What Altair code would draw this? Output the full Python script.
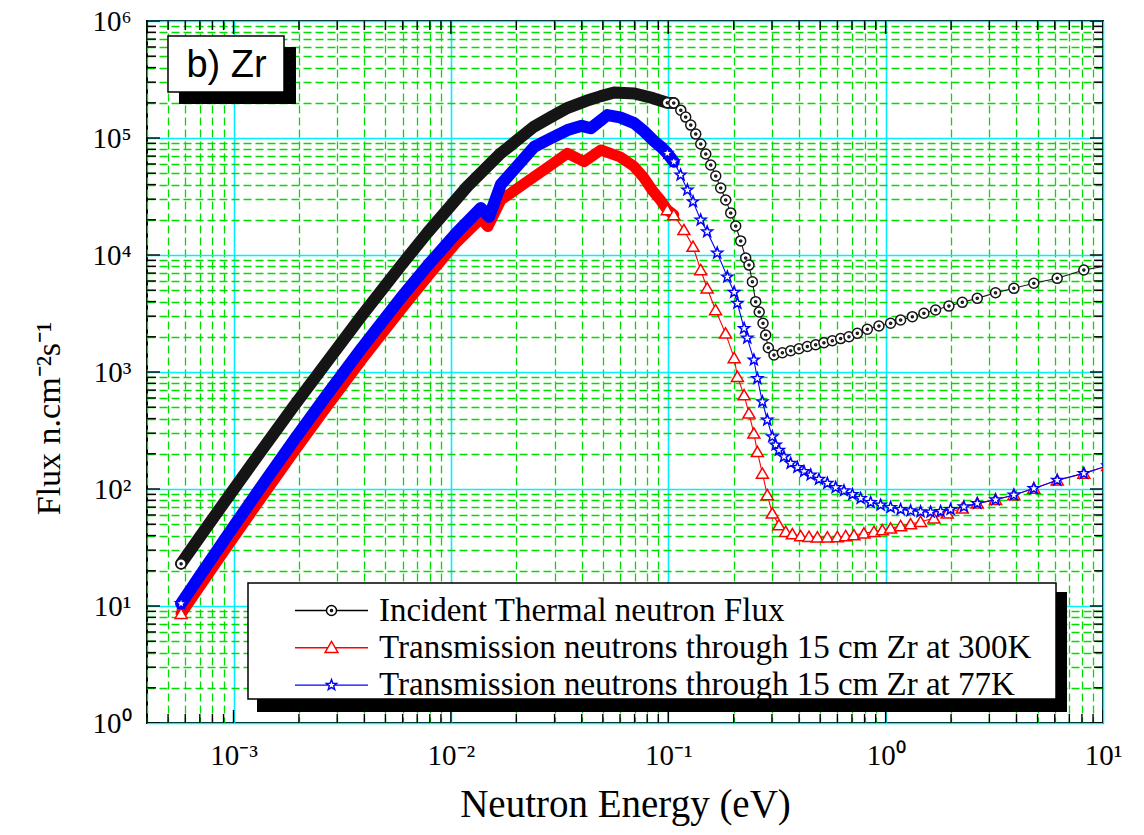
import altair as alt
import pandas as pd

# ---------------- data ----------------
SERIES = [
    "Incident Thermal neutron Flux",
    "Transmission neutrons through 15 cm Zr at 300K",
    "Transmission neutrons through 15 cm Zr at 77K",
]
COLORS = ["#000000", "#ff0000", "#0000ff"]

# Incident thermal neutron flux (black, circles)
inc_E = [5.74e-4, 7.1e-4, 9.4e-4, 1.3e-3, 1.9e-3, 2.7e-3, 3.86e-3, 5.89e-3, 7.8e-3, 0.0119,
         0.0169, 0.0241, 0.029, 0.034, 0.042, 0.049, 0.0564, 0.070, 0.085, 0.099,
         0.106, 0.1142, 0.1203, 0.1269, 0.1338, 0.1411, 0.1488, 0.1568, 0.1654, 0.1743,
         0.1838, 0.1938, 0.2043, 0.2154, 0.2271, 0.2352, 0.2438, 0.2525, 0.2621, 0.2729,
         0.2807, 0.2888,
         0.3065, 0.335, 0.3658, 0.3994, 0.4365, 0.4767, 0.5202, 0.5687, 0.621, 0.6781,
         0.7411, 0.8238, 0.9316, 1.054, 1.172, 1.327, 1.5, 1.698, 1.955, 2.253,
         2.64, 3.204, 3.89, 4.806, 6.157, 8.163, 10.5]
inc_F = [23, 40.4, 84.3, 195, 514, 1230, 2970, 8110, 15500, 38500,
         73600, 125000, 152000, 179000, 208000, 228000, 245000, 240000, 219000, 200000,
         199000, 173000, 151000, 129000, 108000, 88900, 73000, 58800, 47300, 37400,
         29500, 22900, 17700, 13200, 9430, 8200, 5910, 3990, 3260, 2610,
         2070, 1610,
         1400, 1460, 1520, 1580, 1650, 1710, 1780, 1850, 1930, 2000,
         2140, 2320, 2470, 2610, 2780, 2970, 3180, 3390, 3660, 3940,
         4260, 4760, 5190, 5730, 6320, 7450, 8100]

# Transmission through 15 cm Zr at 300K (red, triangles)
t300_E = [5.74e-4, 7.1e-4, 9.4e-4, 1.3e-3, 1.9e-3, 2.7e-3, 3.86e-3, 5.89e-3, 7.8e-3, 0.0106,
          0.01374, 0.0148, 0.01698, 0.02415, 0.029, 0.0344, 0.041, 0.049, 0.060, 0.0697,
          0.077, 0.085, 0.092, 0.099,
          0.106, 0.118, 0.130, 0.141, 0.151, 0.165, 0.1835, 0.201, 0.208, 0.2233,
          0.235, 0.2477, 0.257, 0.271, 0.2855, 0.301, 0.323,
          0.3469, 0.3724, 0.4066, 0.444, 0.4853, 0.5394, 0.5995, 0.6549, 0.7149, 0.7947,
          0.8835, 0.9656, 1.054, 1.172, 1.303, 1.448, 1.668, 1.92, 2.253, 2.64,
          3.204, 3.89, 4.806, 6.157, 8.163, 10.5]
t300_F = [8.6, 15.3, 32.6, 77.4, 209, 513, 1250, 3410, 6520, 12800,
          20500, 17500, 29500, 46700, 59000, 74000, 62800, 79000, 69000, 57000,
          46000, 35200, 29500, 24300,
          22000, 16400, 11800, 7450, 5200, 3390, 2140, 1320, 912, 635,
          443, 299, 208, 136, 89, 62, 49.2,
          43.2, 41.2, 39.7, 39.1, 38.7, 38.7, 38.9, 39.7, 40.4, 41.8,
          43.2, 44.6, 46.1, 48.3, 50.2, 52.5, 56.2, 62, 68.4, 75.4,
          81, 89, 101, 119, 136, 158]

# Transmission through 15 cm Zr at 77K (blue, stars)
t77_E = [5.74e-4, 7.1e-4, 9.4e-4, 1.3e-3, 1.9e-3, 2.7e-3, 3.86e-3, 5.89e-3, 7.8e-3, 0.0106,
         0.01374, 0.0150, 0.01698, 0.02415, 0.029, 0.0344, 0.040, 0.044, 0.0525, 0.060,
         0.0697, 0.077, 0.085, 0.092, 0.099,
         0.106, 0.114, 0.1225, 0.130, 0.141, 0.151, 0.168, 0.187, 0.201, 0.208,
         0.2233, 0.231, 0.2477, 0.257, 0.271, 0.2855, 0.301, 0.312, 0.323, 0.3406,
         0.3658, 0.3927, 0.4211, 0.452, 0.4935, 0.5394, 0.5889, 0.6432, 0.7032, 0.7675,
         0.8533, 0.9484, 1.054, 1.172, 1.303, 1.448, 1.61, 1.79, 1.99, 2.291,
         2.64, 3.204, 3.89, 4.806, 6.157, 8.163, 10.5]
t77_F = [10.5, 18.8, 40.4, 96.4, 262, 644, 1570, 4300, 8090, 15400,
         25200, 21200, 40000, 84000, 100000, 117000, 127000, 121000, 157000, 150000,
         134000, 115000, 96000, 85000, 74000,
         62700, 48300, 36000, 28600, 19900, 15800, 10400, 6500, 4800, 3870,
         2360, 1950, 1270, 880, 557, 389, 280, 238, 215, 189,
         166, 153, 141, 132, 121, 112, 103, 96.7, 90, 83.2,
         76.9, 72.9, 69.7, 67, 65.3, 64, 63.5, 64.4, 67, 70.6,
         75.4, 81, 89, 101, 119, 136, 158]

# axis ticks
x_ticks = [round(k * 10.0 ** d, 10) for d in range(-4, 1) for k in range(1, 10)
           if k * 10.0 ** d >= 4e-4 - 1e-12] + [10.0]
y_ticks = [round(k * 10.0 ** d, 6) for d in range(0, 6) for k in range(1, 10)] + [1e6]
x_label_exps = [-3, -2, -1, 0, 1]
y_label_exps = [0, 1, 2, 3, 4, 5, 6]

# ---------------- styling ----------------
W, H = 956, 702
SERIF = "Liberation Serif"
SUP = {"-": "\u207b", "0": "\u2070", "1": "\u00b9", "2": "\u00b2", "3": "\u00b3",
       "4": "\u2074", "5": "\u2075", "6": "\u2076"}
DEC = "abs(log(datum.value)/LN10 - round(log(datum.value)/LN10)) < 0.001"


def label_expr(exps):
    e = "round(log(datum.value)/LN10)"
    expr = "''"
    for k in exps:
        lab = "10" + "".join(SUP[c] for c in str(k))
        expr = f"({DEC} && {e} == {k}) ? '{lab}' : {expr}"
    return expr


grid_color = {"condition": {"test": DEC, "value": "#00f0ff"}, "value": "#00dd00"}
grid_dash = {"condition": {"test": DEC, "value": []}, "value": [8, 4]}
grid_width = {"condition": {"test": DEC, "value": 1.6}, "value": 1.3}

AX_X = alt.Axis(values=x_ticks, labelExpr=label_expr(x_label_exps), ticks=False, domain=False,
                grid=True, gridColor=grid_color, gridDash=grid_dash, gridWidth=grid_width,
                labelFont=SERIF, labelFontSize=29, labelColor="black", labelPadding=18,
                labelFlush=False, labelOverlap=False,
                title="Neutron Energy (eV)", titleFont=SERIF, titleFontSize=39,
                titleFontWeight="normal", titleColor="black", titleX=478, titleY=93,
                titleBaseline="alphabetic")
AX_Y = alt.Axis(values=y_ticks, labelExpr=label_expr(y_label_exps), ticks=False, domain=False,
                grid=True, gridColor=grid_color, gridDash=grid_dash, gridWidth=grid_width,
                labelFont=SERIF, labelFontSize=29, labelColor="black", labelPadding=16,
                labelOverlap=False,
                title="Flux n.cm\u207b\u00b2s\u207b\u00b9", titleFont=SERIF, titleFontSize=34,
                titleFontWeight="normal", titleColor="black", titleX=-88, titleY=397,
                titleBaseline="alphabetic", titleAngle=270)

xs = alt.Scale(type="log", domain=[4e-4, 10], nice=False)
ys = alt.Scale(type="log", domain=[1, 1e6], nice=False)
X = alt.X("E:Q", scale=xs, axis=AX_X)
Y = alt.Y("F:Q", scale=ys, axis=AX_Y)

CIRCLE = "M-1,0A1,1,0,1,1,1,0A1,1,0,1,1,-1,0ZM-0.2,0A0.2,0.2,0,1,1,0.2,0A0.2,0.2,0,1,1,-0.2,0Z"
TRI = "M0,-1.1L1.2,0.95L-1.2,0.95Z"
STAR = ("M0,-1.1L0.27,-0.372L1.046,-0.34L0.437,0.142L0.647,0.89L0,0.46L-0.647,0.89"
        "L-0.437,0.142L-1.046,-0.34L-0.27,-0.372Z")
LEG_PATHS = [
    "M-7.3,0L-1,0M1,0L7.3,0" + CIRCLE,
    "M-7.3,0L-0.75,0M0.75,0L7.3,0M0,-1.3L1.3,0.95L-1.3,0.95Z",
    "M-7.3,0L-0.62,0M0.62,0L7.3,0" + STAR,
]


def series_layers(E, F, color, path, size, band_w):
    df = pd.DataFrame({"E": E, "F": F})
    base = alt.Chart(df).encode(x=X, y=Y)
    band = base.transform_filter("datum.E <= 0.107").mark_line(
        color=color, strokeWidth=band_w, strokeCap="round", strokeJoin="round", clip=True)
    line = base.mark_line(color=color, strokeWidth=1.1, clip=True)
    pts = base.transform_filter("datum.E >= 0.098 || datum.E < 6e-4").mark_point(
        shape=path, size=size, filled=True, fill="white", stroke=color,
        strokeWidth=1.5, opacity=1, clip=True)
    return [band, line, pts]


# inward ticks on all four sides (half of each tick is clipped away)
TL = "abs(log(datum.v)/LN10 - round(log(datum.v)/LN10)) < 0.001 ? 26 : 18"
xt = pd.DataFrame({"v": x_ticks})
yt = pd.DataFrame({"v": y_ticks})
tick_kw = dict(color="black", thickness=1.4, opacity=1, clip=True)
t_bottom = alt.Chart(xt).transform_calculate(tl=TL).mark_tick(orient="vertical", **tick_kw).encode(
    x=alt.X("v:Q", scale=xs, axis=AX_X), y=alt.value(H), size=alt.Size("tl:Q", scale=None))
t_top = alt.Chart(xt).transform_calculate(tl=TL).mark_tick(orient="vertical", **tick_kw).encode(
    x=alt.X("v:Q", scale=xs, axis=AX_X), y=alt.value(0), size=alt.Size("tl:Q", scale=None))
t_left = alt.Chart(yt).transform_calculate(tl=TL).mark_tick(orient="horizontal", **tick_kw).encode(
    y=alt.Y("v:Q", scale=ys, axis=AX_Y), x=alt.value(0), size=alt.Size("tl:Q", scale=None))
t_right = alt.Chart(yt).transform_calculate(tl=TL).mark_tick(orient="horizontal", **tick_kw).encode(
    y=alt.Y("v:Q", scale=ys, axis=AX_Y), x=alt.value(W), size=alt.Size("tl:Q", scale=None))

one = pd.DataFrame({"k": [0]})


def box(x1, x2, y1, y2, fill, stroke=None, sw=0):
    kw = dict(fill=fill)
    if stroke:
        kw.update(stroke=stroke, strokeWidth=sw)
    return alt.Chart(one).mark_rect(**kw).encode(
        x=alt.value(x1), x2=alt.value(x2), y=alt.value(y1), y2=alt.value(y2))


# legend box with shadow
leg_shadow = box(110, 920, 571, 691, "black")
leg_box = box(101, 909, 562, 678, "white", "black", 1.5)
# panel label "b) Zr"
zr_shadow = box(32, 149, 26, 83, "black")
zr_box = box(21, 137, 15, 71, "white", "black", 1.5)
zr_text = alt.Chart(one).mark_text(text="b) Zr", font="Liberation Sans", fontSize=38,
                                   align="center", baseline="alphabetic", color="black").encode(
    x=alt.value(79.5), y=alt.value(56))

LEG = alt.Legend(title=None, orient="none", legendX=168, legendY=573,
                 labelFont=SERIF, labelFontSize=33, labelColor="black", labelOffset=31,
                 symbolSize=100, symbolStrokeWidth=1.4, symbolOpacity=1, rowPadding=3.3,
                 padding=0, labelLimit=900)
legend_layer = alt.Chart(pd.DataFrame({"series": SERIES})).mark_point(opacity=0).encode(
    color=alt.Color("series:N", scale=alt.Scale(domain=SERIES, range=COLORS), legend=LEG),
    shape=alt.Shape("series:N", scale=alt.Scale(domain=SERIES, range=LEG_PATHS), legend=LEG),
)

layers = [t_bottom, t_top, t_left, t_right]
layers += series_layers(inc_E, inc_F, "#151515", CIRCLE, 100, 12)
layers += series_layers(t300_E, t300_F, "#ff0000", TRI, 100, 11)
layers += series_layers(t77_E, t77_F, "#0000ff", STAR, 110, 12)
layers += [leg_shadow, leg_box, zr_shadow, zr_box, zr_text, legend_layer]

chart = alt.layer(*layers).properties(
    width=W, height=H,
    autosize=alt.AutoSizeParams(type="none"),
    padding={"left": 147, "top": 21, "right": 41, "bottom": 112},
    background="white",
).configure_view(stroke="black", strokeWidth=2)

chart.save("out.html", embed_options={"renderer": "svg", "actions": False})
